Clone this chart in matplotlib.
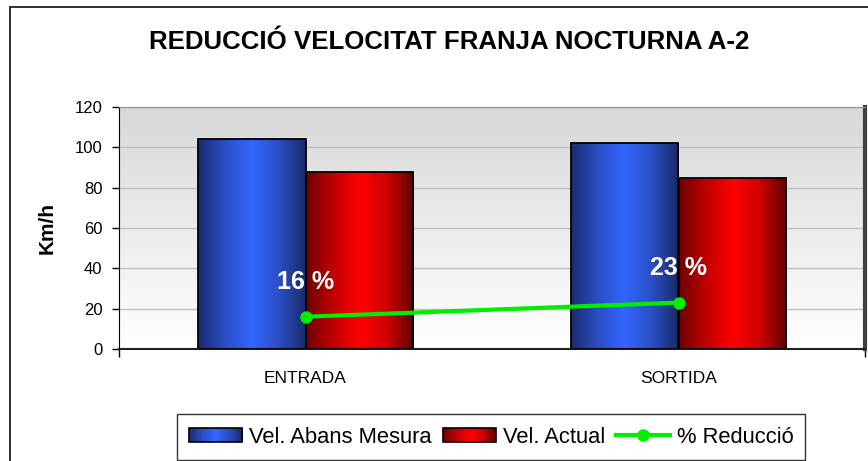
import numpy as np
import matplotlib
matplotlib.use('Agg')
import matplotlib.pyplot as plt
from matplotlib.colors import LinearSegmentedColormap
from matplotlib.patches import Rectangle
from matplotlib.lines import Line2D
from matplotlib.legend_handler import HandlerBase

plt.rcParams['font.family'] = ['Liberation Sans', 'DejaVu Sans']

# data
categories = ['ENTRADA', 'SORTIDA']
vel_abans = [104, 102]
vel_actual = [88, 85]
reduccio = [16, 23]
reduccio_labels = ['16 %', '23 %']
series_names = ['Vel. Abans Mesura', 'Vel. Actual', '% Reducció']
title = 'REDUCCIÓ VELOCITAT FRANJA NOCTURNA A-2'
y_ticks = [0, 20, 40, 60, 80, 100, 120]

blue_cmap = LinearSegmentedColormap.from_list(
    'blue', ['#1a2c6e', '#2a4fc4', '#3366ff', '#2a4fc4', '#1a2a66'])
red_cmap = LinearSegmentedColormap.from_list(
    'red', ['#700000', '#c00000', '#ff0000', '#d00000', '#600000'])
bg_cmap = LinearSegmentedColormap.from_list('bg', ['#ffffff', '#d8d8d8'])


class GradientHandler(HandlerBase):
    """Legend key drawn as a horizontal gradient made of thin stripes."""
    def __init__(self, cmap, n=40):
        super().__init__()
        self.cmap = cmap
        self.n = n

    def create_artists(self, legend, orig_handle, xdescent, ydescent,
                       width, height, fontsize, trans):
        arts = []
        step = width / self.n
        for i in range(self.n):
            arts.append(Rectangle((-xdescent + i * step, -ydescent), step * 1.05, height,
                                  facecolor=self.cmap(i / (self.n - 1)),
                                  edgecolor='none', transform=trans))
        arts.append(Rectangle((-xdescent, -ydescent), width, height, fill=False,
                              edgecolor='black', lw=1.2, transform=trans))
        return arts


fig = plt.figure(figsize=(8.68, 4.61), dpi=100)
ax = fig.add_axes([119 / 868, 112 / 461, 746 / 868, 242 / 461])

# outer chart frame (runs off the right and bottom edges)
fig.patches.append(Rectangle((10 / 868, -0.1), 1.2, 1.1 - 7 / 461,
                             transform=fig.transFigure, fill=False,
                             edgecolor='#202020', lw=1.3))

x = np.arange(len(categories)) + 0.5
w = 0.287

# plot area background gradient
grad = np.linspace(0, 1, 256).reshape(-1, 1)
ax.imshow(grad, extent=[0, 2, 0, 120], origin='lower', aspect='auto',
          cmap=bg_cmap, zorder=-2)

bars_a = ax.bar(x - w / 2, vel_abans, w, facecolor='none', edgecolor='black',
                lw=1.3, zorder=3)
bars_b = ax.bar(x + w / 2, vel_actual, w, facecolor='none', edgecolor='black',
                lw=1.3, zorder=3)

hgrad = np.linspace(0, 1, 256).reshape(1, -1)
for bars, cmap in ((bars_a, blue_cmap), (bars_b, red_cmap)):
    for r in bars:
        x0, h = r.get_x(), r.get_height()
        im = ax.imshow(hgrad, extent=[x0, x0 + r.get_width(), 0, h],
                       aspect='auto', cmap=cmap, zorder=2)
        clip = Rectangle((x0, 0), r.get_width(), h, transform=ax.transData)
        im.set_clip_path(clip)

ax.plot(x, reduccio, color='#00ee00', lw=3, marker='o', ms=8, zorder=4)
for xi, yi, lab in zip(x, reduccio, reduccio_labels):
    ax.annotate(lab, (xi, yi), xytext=(0, 25), textcoords='offset points',
                ha='center', va='center', color='white', fontsize=18,
                fontweight='bold', zorder=5)

ax.set_xlim(0, 2)
ax.set_ylim(0, 120)
ax.set_yticks(y_ticks)
ax.set_yticklabels([str(t) for t in y_ticks], fontsize=12)
ax.yaxis.grid(True, color='#c0c0c0', lw=1)
ax.set_axisbelow(True)
ax.tick_params(axis='y', direction='out', length=5, width=1, pad=7)

ax.set_xticks(x)
ax.set_xticklabels(categories, fontsize=12.5)
ax.set_xticks([0, 2], minor=True)
ax.tick_params(axis='x', which='major', length=0, pad=16)
ax.tick_params(axis='x', which='minor', direction='out', length=6, width=1)

ax.set_ylabel('Km/h', fontsize=15, fontweight='bold')
ax.yaxis.set_label_coords(-0.083, 0.5)

ax.spines['left'].set_color('black')
ax.spines['bottom'].set_color('#202020')
ax.spines['bottom'].set_linewidth(1.5)
ax.spines['top'].set_color('#909090')
ax.spines['right'].set_color('#404040')
ax.spines['right'].set_linewidth(3)

fig.text(449 / 868, 1 - 42 / 461, title, ha='center', va='center',
         fontsize=18.6, fontweight='bold')

h_a = Rectangle((0, 0), 1, 1)
h_b = Rectangle((0, 0), 1, 1)
h_c = Line2D([], [], color='#00ee00', lw=3, marker='o', ms=8)
leg = fig.legend([h_a, h_b, h_c], series_names, loc='center',
                 bbox_to_anchor=(491 / 868, 1 - 437 / 461), ncol=3,
                 fontsize=15.8, frameon=True, fancybox=False, edgecolor='black',
                 handlelength=2.45, handleheight=0.6, handletextpad=0.3,
                 columnspacing=0.5, borderpad=0.55, numpoints=1,
                 handler_map={h_a: GradientHandler(blue_cmap),
                              h_b: GradientHandler(red_cmap)})
leg.get_frame().set_linewidth(1)

fig.savefig('out.png', dpi=100)
